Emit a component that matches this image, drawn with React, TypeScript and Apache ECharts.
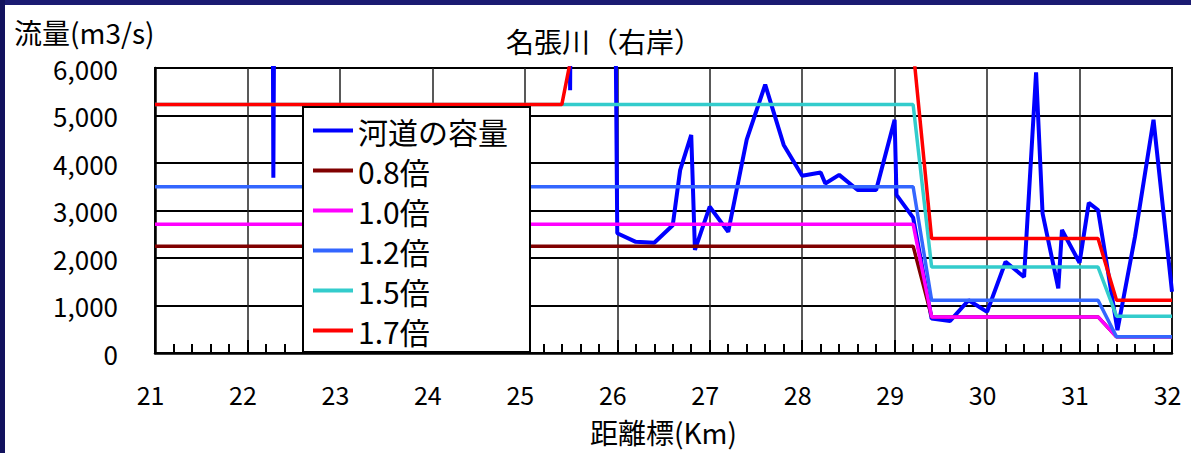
import React, { useEffect, useRef } from "react";
import * as echarts from "echarts";

// ---- data ----
const chartTitle = "名張川（右岸）";
const yAxisName = "流量(m3/s)";
const xAxisName = "距離標(Km)";
const seriesNames = ["河道の容量", "0.8倍", "1.0倍", "1.2倍", "1.5倍", "1.7倍"];

// river capacity (m3/s) by distance marker (km); values above 6,000 run off the chart
const capacityKm = [
  21.0, 22.2, 22.28, 22.4, 25.4, 25.49, 25.6, 25.8, 26.0, 26.2, 26.4, 26.6, 26.68, 26.8, 26.84,
  27.0, 27.2, 27.4, 27.6, 27.8, 28.0, 28.2, 28.25, 28.4, 28.6, 28.8, 29.0, 29.02, 29.2, 29.4,
  29.6, 29.8, 30.0, 30.2, 30.4, 30.53, 30.6, 30.77, 30.81, 31.0, 31.1, 31.2, 31.41, 31.6, 31.8, 32.0,
];
const capacity = [
  50000, 50000, 3690, 50000, 50000, 5530, 50000, 50000, 2520, 2340, 2320, 2690, 3850, 4590, 2170,
  3080, 2550, 4490, 5650, 4380, 3730, 3800, 3570, 3750, 3430, 3430, 4910, 3330, 2850, 725,
  675, 1110, 865, 1920, 1600, 5910, 2940, 1360, 2590, 1900, 3160, 3010, 480, 2450, 4910, 1290,
];

// design flows (step lines)
const stepKm = [21.0, 29.2, 29.4, 31.2, 31.4, 32.0];
const flow08 = [2250, 2250, 760, 760, 340, 340];
const flow10 = [2710, 2710, 760, 760, 340, 340];
const flow12 = [3500, 3500, 1110, 1110, 340, 340];
const flow15 = [5230, 5230, 1810, 1810, 775, 775];
const flow17Km = [21.0, 25.4, 25.6, 29.2, 29.4, 31.2, 31.4, 32.0];
const flow17 = [5230, 5230, 7200, 6400, 2410, 2410, 1110, 1110];

const xTicks = { min: 21, max: 32, interval: 1 };
const yTicks = { min: 0, max: 6000, interval: 1000 };

const colors = ["#0000FF", "#800000", "#FF00FF", "#3366FF", "#33CCCC", "#FF0000"];

const pairs = (xs: number[], ys: number[]) => xs.map((x, i) => [x, ys[i]]);

const FONT = '"Noto Sans CJK JP", "Noto Sans", sans-serif';

export default function App() {
  const ref = useRef<HTMLDivElement>(null);

  useEffect(() => {
    if (!ref.current) return;
    const chart = echarts.init(ref.current, undefined, { renderer: "svg" });

    const seriesData = [
      pairs(capacityKm, capacity),
      pairs(stepKm, flow08),
      pairs(stepKm, flow10),
      pairs(stepKm, flow12),
      pairs(stepKm, flow15),
      pairs(flow17Km, flow17),
    ];

    chart.setOption({
      animation: false,
      backgroundColor: "#ffffff",
      textStyle: { fontFamily: FONT },
      graphic: [
        { type: "rect", left: 0, top: 0, shape: { width: 1191, height: 5 }, style: { fill: "#1b1b72" }, z: 10 },
        { type: "rect", left: 0, top: 0, shape: { width: 5, height: 453 }, style: { fill: "#12125e" }, z: 10 },
      ],
      title: [
        {
          text: chartTitle,
          left: 506,
          top: 27,
          padding: 0,
          textStyle: { fontSize: 28, fontWeight: "normal", color: "#000", fontFamily: FONT },
        },
        {
          text: yAxisName,
          left: 14,
          top: 18,
          padding: 0,
          textStyle: { fontSize: 28, fontWeight: "normal", color: "#000", fontFamily: FONT },
        },
      ],
      grid: {
        left: 155,
        top: 68,
        right: 19,
        bottom: 100,
        show: true,
        borderColor: "#000",
        borderWidth: 2,
        backgroundColor: "transparent",
      },
      legend: {
        data: seriesNames,
        orient: "vertical",
        left: 303,
        top: 107,
        backgroundColor: "#ffffff",
        borderColor: "#000",
        borderWidth: 2,
        borderRadius: 0,
        padding: [8, 22, 6, 10],
        icon: "rect",
        itemWidth: 40,
        itemHeight: 4,
        itemGap: 9,
        itemTextGap: 8,
        textStyle: { fontSize: 30, lineHeight: 31, color: "#000", fontFamily: FONT },
      },
      xAxis: {
        type: "value",
        min: xTicks.min,
        max: xTicks.max,
        interval: xTicks.interval,
        name: xAxisName,
        nameLocation: "middle",
        nameGap: 65,
        nameTextStyle: { fontSize: 28, color: "#000", fontFamily: FONT },
        axisLine: { show: true, onZero: false, lineStyle: { color: "#000", width: 2.5 } },
        axisTick: { show: true, inside: true, length: 13, lineStyle: { color: "#000", width: 2 } },
        minorTick: { show: true, splitNumber: 5, length: 9, lineStyle: { color: "#000", width: 2 } },
        axisLabel: { fontSize: 25, color: "#000", margin: 28, padding: [0, 9, 0, 0], fontFamily: FONT },
        splitLine: { show: true, lineStyle: { color: "#222", width: 1.5 } },
      },
      yAxis: {
        type: "value",
        min: yTicks.min,
        max: yTicks.max,
        interval: yTicks.interval,
        axisLine: { show: true, lineStyle: { color: "#000", width: 2.5 } },
        axisTick: { show: true, inside: true, length: 11, lineStyle: { color: "#000", width: 2 } },
        axisLabel: {
          fontSize: 26,
          color: "#000",
          margin: 37,
          fontFamily: FONT,
          formatter: (v: number) => v.toLocaleString("en-US"),
        },
        splitLine: { show: true, lineStyle: { color: "#000", width: 2 } },
      },
      series: seriesNames.map((name, i) => ({
        name,
        type: "line",
        data: seriesData[i],
        symbol: "none",
        clip: true,
        color: colors[i],
        lineStyle: { color: colors[i], width: i === 0 ? 4 : 3.5 },
      })),
    });

    return () => chart.dispose();
  }, []);

  return (
    <div
      ref={ref}
      style={{ position: "absolute", left: 0, top: 0, width: 1191, height: 453 }}
    />
  );
}
